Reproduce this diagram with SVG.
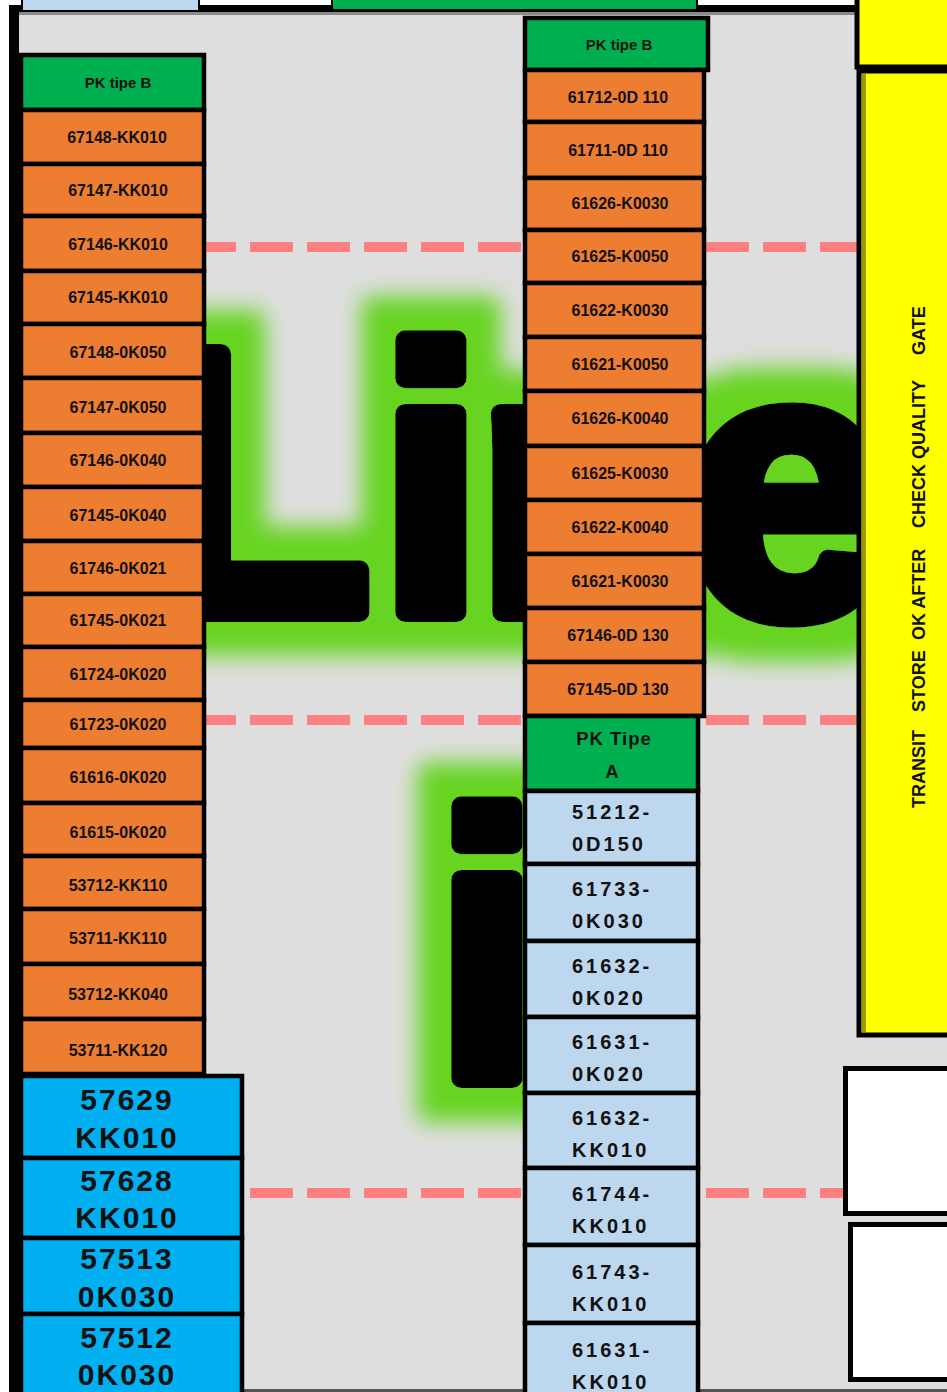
<svg xmlns="http://www.w3.org/2000/svg" width="947" height="1392" viewBox="0 0 947 1392">
<style>
.bd{stroke:#000;stroke-width:4.5}
.or{fill:#ED7D31}
.gr{fill:#00B050}
.lb{fill:#BDD7EE}
.bb{fill:#00B0F0}
.t{font-family:"Liberation Sans",Arial,sans-serif;font-weight:bold;fill:#111}
.ol{font-size:16px;text-anchor:middle}
.hd{font-size:15px;text-anchor:middle}
.la{font-size:20px;letter-spacing:3px}
.bl{font-size:30px;letter-spacing:2px;text-anchor:middle}
.wm{font-family:"Liberation Sans",Arial,sans-serif;font-weight:bold;font-size:375px;fill:#000;stroke:#000;stroke-width:20;stroke-linejoin:round}
.dash{stroke:#FF8080;stroke-width:10;stroke-dasharray:43 14;fill:none}
</style>
<defs>
<filter id="glow" filterUnits="userSpaceOnUse" x="0" y="0" width="947" height="1392">
<feMorphology in="SourceAlpha" operator="dilate" radius="34" result="d"/>
<feGaussianBlur in="d" stdDeviation="11" result="b"/>
<feFlood flood-color="#68D424"/>
<feComposite in2="b" operator="in" result="g"/>
<feMerge><feMergeNode in="g"/><feMergeNode in="SourceGraphic"/></feMerge>
</filter>
</defs>
<rect x="0" y="0" width="947" height="1392" fill="#fff"/>
<rect x="19" y="12" width="928" height="1380" fill="#DEDEDE"/>
<rect x="9" y="5" width="853" height="7" fill="#000"/>
<rect x="19" y="12" width="838" height="3" fill="#8A8A8A"/>
<rect x="9" y="5" width="10" height="1387" fill="#000"/>
<rect x="22" y="-2" width="177" height="13" fill="#BDD7EE" stroke="#000" stroke-width="2"/>
<rect x="332" y="-2" width="365" height="12" fill="#00B050" stroke="#000" stroke-width="2"/>
<rect x="19" y="1389" width="928" height="3" fill="#555"/>

<g id="watermark" filter="url(#glow)">
<text class="wm" x="142" y="612">L</text>
<text class="wm" x="379" y="612">i</text>
<text class="wm" x="476" y="612">n</text>
<text class="wm" x="684" y="614">e</text>
<text class="wm" x="435" y="1078">i</text>
</g>

<g id="connectors">
<line class="dash" x1="22" y1="247" x2="857" y2="247"/>
<line class="dash" x1="22" y1="720" x2="857" y2="720"/>
<line class="dash" x1="22" y1="1193" x2="843" y2="1193"/>
</g>

<g id="yellow-panel">
<rect x="857" y="-5" width="95" height="72" fill="#FFFF00" stroke="#000" stroke-width="5"/>
<rect x="859" y="71" width="93" height="964" fill="#FFFF00" stroke="#000" stroke-width="5"/>
<rect x="862" y="74" width="4" height="958" fill="#9A9A00"/>
<text class="t" font-size="18" transform="translate(925,0) rotate(-90)"><tspan x="-808">TRANSIT</tspan><tspan x="-712">STORE</tspan><tspan x="-640">OK AFTER</tspan><tspan x="-528">CHECK QUALITY</tspan><tspan x="-355">GATE</tspan></text>
</g>
<g id="white-box-1"><rect x="845.5" y="1068.5" width="110" height="145" fill="#fff" stroke="#000" stroke-width="5"/></g>
<g id="white-box-2"><rect x="850.5" y="1224.5" width="110" height="155" fill="#fff" stroke="#000" stroke-width="5"/></g>

<g id="left-header"><rect class="gr bd" x="21" y="55" width="183" height="55"/><text class="t hd" x="118" y="88">PK tipe  B</text></g>
<g id="L1"><rect class="or bd" x="21" y="110" width="183" height="54"/><text class="t ol" x="117" y="143">67148-KK010</text></g>
<g id="L2"><rect class="or bd" x="21" y="164" width="183" height="52"/><text class="t ol" x="118" y="196">67147-KK010</text></g>
<g id="L3"><rect class="or bd" x="21" y="216" width="183" height="55"/><text class="t ol" x="118" y="250">67146-KK010</text></g>
<g id="L4"><rect class="or bd" x="21" y="271" width="183" height="53"/><text class="t ol" x="118" y="303">67145-KK010</text></g>
<g id="L5"><rect class="or bd" x="21" y="324" width="183" height="54"/><text class="t ol" x="118" y="358">67148-0K050</text></g>
<g id="L6"><rect class="or bd" x="21" y="378" width="183" height="55"/><text class="t ol" x="118" y="413">67147-0K050</text></g>
<g id="L7"><rect class="or bd" x="21" y="433" width="183" height="54"/><text class="t ol" x="118" y="466">67146-0K040</text></g>
<g id="L8"><rect class="or bd" x="21" y="487" width="183" height="54"/><text class="t ol" x="118" y="521">67145-0K040</text></g>
<g id="L9"><rect class="or bd" x="21" y="541" width="183" height="53"/><text class="t ol" x="118" y="574">61746-0K021</text></g>
<g id="L10"><rect class="or bd" x="21" y="594" width="183" height="53"/><text class="t ol" x="118" y="626">61745-0K021</text></g>
<g id="L11"><rect class="or bd" x="21" y="647" width="183" height="53"/><text class="t ol" x="118" y="680">61724-0K020</text></g>
<g id="L12"><rect class="or bd" x="21" y="700" width="183" height="48"/><text class="t ol" x="118" y="730">61723-0K020</text></g>
<g id="L13"><rect class="or bd" x="21" y="748" width="183" height="55"/><text class="t ol" x="118" y="783">61616-0K020</text></g>
<g id="L14"><rect class="or bd" x="21" y="803" width="183" height="53"/><text class="t ol" x="118" y="838">61615-0K020</text></g>
<g id="L15"><rect class="or bd" x="21" y="856" width="183" height="53"/><text class="t ol" x="118" y="891">53712-KK110</text></g>
<g id="L16"><rect class="or bd" x="21" y="909" width="183" height="55"/><text class="t ol" x="118" y="944">53711-KK110</text></g>
<g id="L17"><rect class="or bd" x="21" y="964" width="183" height="55"/><text class="t ol" x="118" y="1000">53712-KK040</text></g>
<g id="L18"><rect class="or bd" x="21" y="1019" width="183" height="55"/><text class="t ol" x="118" y="1056">53711-KK120</text></g>

<g id="B1"><rect class="bb bd" x="21" y="1076" width="221" height="82"/><text class="t bl" x="127" y="1110">57629</text><text class="t bl" x="127" y="1148">KK010</text></g>
<g id="B2"><rect class="bb bd" x="21" y="1158" width="221" height="80"/><text class="t bl" x="127" y="1191">57628</text><text class="t bl" x="127" y="1228">KK010</text></g>
<g id="B3"><rect class="bb bd" x="21" y="1238" width="221" height="76"/><text class="t bl" x="127" y="1269">57513</text><text class="t bl" x="127" y="1307">0K030</text></g>
<g id="B4"><rect class="bb bd" x="21" y="1314" width="221" height="86"/><text class="t bl" x="127" y="1348">57512</text><text class="t bl" x="127" y="1385">0K030</text></g>

<g id="mid-header-b"><rect class="gr bd" x="525" y="18" width="183" height="52"/><text class="t hd" x="619" y="50">PK tipe  B</text></g>
<g id="M1"><rect class="or bd" x="525" y="70" width="179" height="52"/><text class="t ol" x="618" y="103">61712-0D 110</text></g>
<g id="M2"><rect class="or bd" x="525" y="122" width="179" height="56"/><text class="t ol" x="618" y="156">61711-0D 110</text></g>
<g id="M3"><rect class="or bd" x="525" y="178" width="179" height="52"/><text class="t ol" x="620" y="209">61626-K0030</text></g>
<g id="M4"><rect class="or bd" x="525" y="230" width="179" height="53"/><text class="t ol" x="620" y="262">61625-K0050</text></g>
<g id="M5"><rect class="or bd" x="525" y="283" width="179" height="54"/><text class="t ol" x="620" y="316">61622-K0030</text></g>
<g id="M6"><rect class="or bd" x="525" y="337" width="179" height="54"/><text class="t ol" x="620" y="370">61621-K0050</text></g>
<g id="M7"><rect class="or bd" x="525" y="391" width="179" height="55"/><text class="t ol" x="620" y="424">61626-K0040</text></g>
<g id="M8"><rect class="or bd" x="525" y="446" width="179" height="54"/><text class="t ol" x="620" y="479">61625-K0030</text></g>
<g id="M9"><rect class="or bd" x="525" y="500" width="179" height="54"/><text class="t ol" x="620" y="533">61622-K0040</text></g>
<g id="M10"><rect class="or bd" x="525" y="554" width="179" height="54"/><text class="t ol" x="620" y="587">61621-K0030</text></g>
<g id="M11"><rect class="or bd" x="525" y="608" width="179" height="54"/><text class="t ol" x="618" y="641">67146-0D 130</text></g>
<g id="M12"><rect class="or bd" x="525" y="662" width="179" height="54"/><text class="t ol" x="618" y="695">67145-0D 130</text></g>

<g id="mid-header-a"><rect class="gr bd" x="525" y="716" width="173" height="75"/><text class="t" font-size="18.5" letter-spacing="1" text-anchor="middle" x="614" y="745">PK Tipe</text><text class="t" font-size="18.5" text-anchor="middle" x="612" y="778">A</text></g>
<g id="A1"><rect class="lb bd" x="525" y="791" width="173" height="73"/><text class="t la" x="572" y="819">51212-</text><text class="t la" x="572" y="851">0D150</text></g>
<g id="A2"><rect class="lb bd" x="525" y="864" width="173" height="77"/><text class="t la" x="572" y="896">61733-</text><text class="t la" x="572" y="928">0K030</text></g>
<g id="A3"><rect class="lb bd" x="525" y="941" width="173" height="76"/><text class="t la" x="572" y="973">61632-</text><text class="t la" x="572" y="1005">0K020</text></g>
<g id="A4"><rect class="lb bd" x="525" y="1017" width="173" height="76"/><text class="t la" x="572" y="1049">61631-</text><text class="t la" x="572" y="1081">0K020</text></g>
<g id="A5"><rect class="lb bd" x="525" y="1093" width="173" height="75"/><text class="t la" x="572" y="1125">61632-</text><text class="t la" x="572" y="1157">KK010</text></g>
<g id="A6"><rect class="lb bd" x="525" y="1168" width="173" height="77"/><text class="t la" x="572" y="1201">61744-</text><text class="t la" x="572" y="1233">KK010</text></g>
<g id="A7"><rect class="lb bd" x="525" y="1245" width="173" height="78"/><text class="t la" x="572" y="1279">61743-</text><text class="t la" x="572" y="1311">KK010</text></g>
<g id="A8"><rect class="lb bd" x="525" y="1323" width="173" height="80"/><text class="t la" x="572" y="1357">61631-</text><text class="t la" x="572" y="1389">KK010</text></g>
</svg>
